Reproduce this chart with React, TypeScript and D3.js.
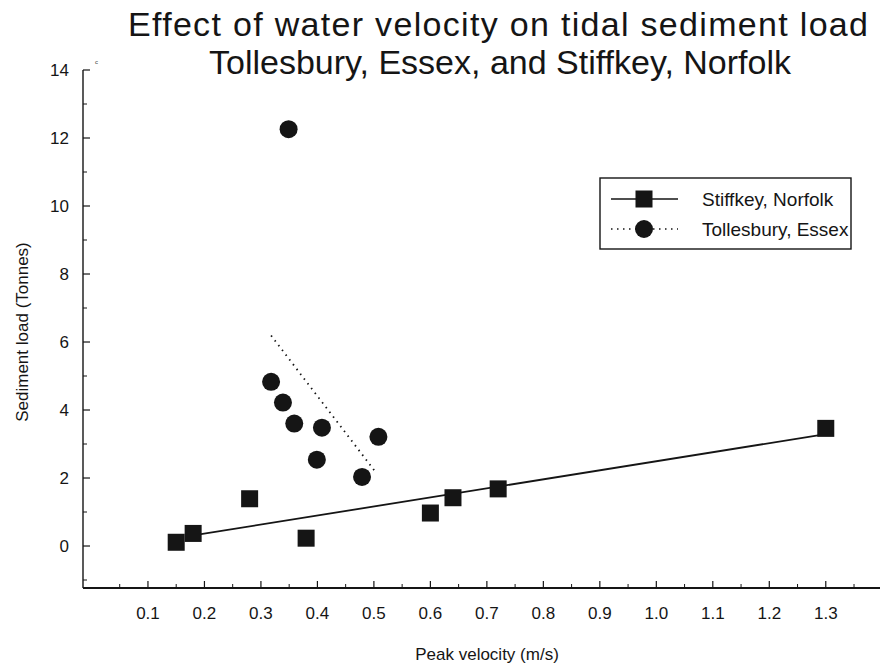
import React from "react";
import * as d3 from "d3";

const stiffkeyX = [0.15, 0.18, 0.28, 0.38, 0.60, 0.64, 0.72, 1.30];
const stiffkeyY = [0.11, 0.37, 1.39, 0.23, 0.97, 1.42, 1.68, 3.46];
const tollesX = [0.349, 0.318, 0.339, 0.359, 0.408, 0.399, 0.508, 0.479];
const tollesY = [12.26, 4.83, 4.22, 3.6, 3.48, 2.54, 3.21, 2.03];
// fitted lines: [slope, intercept, xStart, xEnd]
const stiffkeyFit = [2.66, -0.167, 0.18, 1.3];
const tollesFit = [-21.7, 13.09, 0.318, 0.504];
const xTicks = [0.1, 0.2, 0.3, 0.4, 0.5, 0.6, 0.7, 0.8, 0.9, 1.0, 1.1, 1.2, 1.3];
const yTicks = [0, 2, 4, 6, 8, 10, 12, 14];
const titleLines = ["Effect of water velocity on tidal sediment load", "Tollesbury, Essex, and Stiffkey, Norfolk"];
const legendLabels = ["Stiffkey, Norfolk", "Tollesbury, Essex"];

const W = 883, H = 665;
const FONT = "Liberation Sans, Arial, sans-serif";
const INK = "#151515";

export default function App() {
  const x = d3.scaleLinear().domain([-0.015, 1.396]).range([83, 880]);
  const y = d3.scaleLinear().domain([-1.235, 14]).range([588, 70]);
  const xMinor = d3.range(0.05, 1.39, 0.1);
  const yMinor = d3.range(-1, 14, 2);
  const line = d3.line<[number, number]>().x(d => x(d[0])).y(d => y(d[1]));
  const fitPts = (f: number[]): [number, number][] => [[f[2], f[0] * f[2] + f[1]], [f[3], f[0] * f[3] + f[1]]];
  const sq = 17;
  const x0 = x(-0.015), yb = y(-1.235);
  return (
    <svg width={W} height={H} style={{ position: "absolute", left: 0, top: 0, background: "#fff" }} fontFamily={FONT}>
      <rect width={W} height={H} fill="#fff" />
      <text x={128} y={36} fontSize={34} fill={INK} textLength={740} lengthAdjust="spacing">{titleLines[0]}</text>
      <text x={500} y={74} textAnchor="middle" fontSize={34} fill={INK}>{titleLines[1]}</text>
      <text x={95} y={64} fontSize={6} fill="#444">c</text>
      {/* axes */}
      <line x1={x0} x2={x0} y1={y(14)} y2={yb} stroke={INK} strokeWidth={1.4} />
      <line x1={x0} x2={x(1.396)} y1={yb} y2={yb} stroke={INK} strokeWidth={1.8} />
      {yTicks.map(v => (
        <g key={v}>
          <line x1={x0} x2={x0 + 7} y1={y(v)} y2={y(v)} stroke={INK} strokeWidth={1.2} />
          <text x={x0 - 14} y={y(v) + 6} textAnchor="end" fontSize={17} fill={INK}>{v}</text>
        </g>
      ))}
      {yMinor.map(v => (
        <line key={v} x1={x0} x2={x0 + 4} y1={y(v)} y2={y(v)} stroke={INK} />
      ))}
      {xTicks.map(v => (
        <g key={v}>
          <line x1={x(v)} x2={x(v)} y1={yb} y2={yb - 7} stroke={INK} strokeWidth={1.2} />
          <text x={x(v)} y={619} textAnchor="middle" fontSize={17} fill={INK}>{v.toFixed(1)}</text>
        </g>
      ))}
      {xMinor.map(v => (
        <line key={v} x1={x(v)} x2={x(v)} y1={yb} y2={yb - 4} stroke={INK} />
      ))}
      <text x={487} y={660} textAnchor="middle" fontSize={17} fill={INK}>Peak velocity (m/s)</text>
      <text transform={`translate(28,332) rotate(-90)`} textAnchor="middle" fontSize={17} fill={INK}>Sediment load (Tonnes)</text>
      {/* fits */}
      <path d={line(fitPts(stiffkeyFit)) || ""} stroke={INK} strokeWidth={1.8} fill="none" />
      <path d={line(fitPts(tollesFit)) || ""} stroke={INK} strokeWidth={1.8} strokeDasharray="1.5 4.5" fill="none" />
      {/* points */}
      {stiffkeyX.map((v, i) => (
        <rect key={i} x={x(v) - sq / 2} y={y(stiffkeyY[i]) - sq / 2} width={sq} height={sq} fill={INK} />
      ))}
      {tollesX.map((v, i) => (
        <circle key={i} cx={x(v)} cy={y(tollesY[i])} r={9} fill={INK} />
      ))}
      {/* legend */}
      <rect x={600} y={178} width={251} height={71} fill="#fff" stroke={INK} strokeWidth={1.4} />
      <line x1={611} x2={678} y1={199} y2={199} stroke={INK} strokeWidth={1.6} />
      <rect x={644 - sq / 2} y={199 - sq / 2} width={sq} height={sq} fill={INK} />
      <line x1={611} x2={678} y1={229} y2={229} stroke={INK} strokeWidth={1.6} strokeDasharray="1.5 4.5" />
      <circle cx={644} cy={229} r={9} fill={INK} />
      {legendLabels.map((t, i) => (
        <text key={i} x={702} y={206 + i * 30} fontSize={19} fill={INK}>{t}</text>
      ))}
    </svg>
  );
}
